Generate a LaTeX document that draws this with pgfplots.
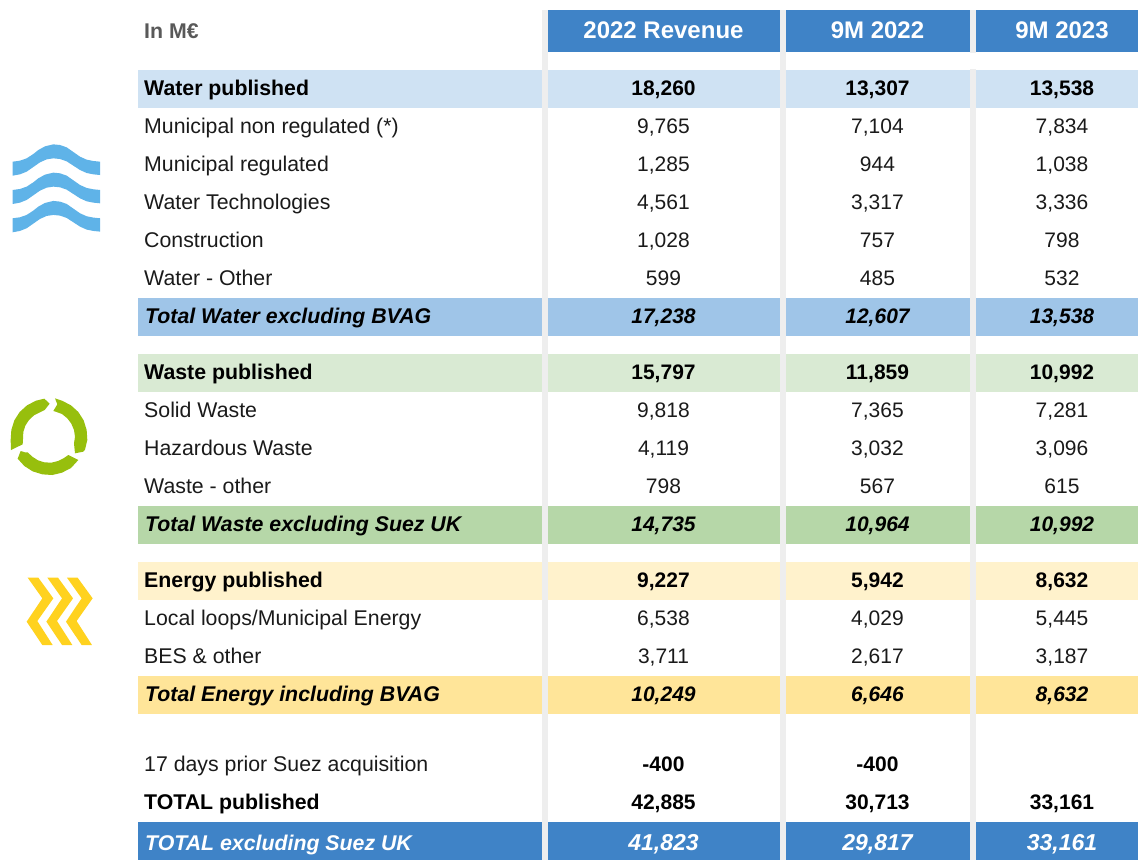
\documentclass[border=0pt]{standalone}
\usepackage{fontspec}
\setmainfont{Liberation Sans}
\usepackage{pgfplots}
\usepackage{pgfplotstable}
\pgfplotsset{compat=1.18}

\definecolor{hdr}{HTML}{3F83C7}
\definecolor{sepgray}{HTML}{EEEEEE}
\definecolor{labgray}{HTML}{595959}
\definecolor{ink}{HTML}{1A1A1A}
\definecolor{waterL}{HTML}{CFE2F3}
\definecolor{waterD}{HTML}{9FC5E8}
\definecolor{wasteL}{HTML}{D9EAD3}
\definecolor{wasteD}{HTML}{B6D7A8}
\definecolor{enerL}{HTML}{FFF2CC}
\definecolor{enerD}{HTML}{FFE599}
\definecolor{wave}{HTML}{5FB3E8}
\definecolor{ringg}{HTML}{97BF0D}
\definecolor{chev}{HTML}{FFD21F}

% label rows: y, label text
\pgfplotstableread{
y label
126 {Municipal non regulated (*)}
164 {Municipal regulated}
202 {Water Technologies}
240 {Construction}
278 {Water - Other}
410 {Solid Waste}
448 {Hazardous Waste}
486 {Waste - other}
618 {Local loops/Municipal Energy}
656 {BES \& other}
764 {17 days prior Suez acquisition}
}\regularlabels
\pgfplotstableread{
y label
88 {Water published}
372 {Waste published}
580 {Energy published}
802 {TOTAL published}
}\boldlabels
\pgfplotstableread{
y label
316 {Total Water excluding BVAG}
524 {Total Waste excluding Suez UK}
694 {Total Energy including BVAG}
}\italiclabels

% value rows, one column per period
\pgfplotstableread{
y rev a b
126 9,765 7,104 7,834
164 1,285 944 1,038
202 4,561 3,317 3,336
240 1,028 757 798
278 599 485 532
410 9,818 7,365 7,281
448 4,119 3,032 3,096
486 798 567 615
618 6,538 4,029 5,445
656 3,711 2,617 3,187
}\regularvals
\pgfplotstableread{
y rev a b
88 18,260 13,307 13,538
372 15,797 11,859 10,992
580 9,227 5,942 8,632
802 42,885 30,713 33,161
}\boldvals
\pgfplotstableread{
y rev a
764 -400 -400
}\priorvals
\pgfplotstableread{
y rev a b
316 17,238 12,607 13,538
524 14,735 10,964 10,992
694 10,249 6,646 8,632
}\italicvals
\pgfplotstableread{
y rev a b label
843 41,823 29,817 33,161 {TOTAL excluding Suez UK}
}\totalvals
\pgfplotstableread{
y rev a b label
31 {2022 Revenue} {9M 2022} {9M 2023} {In M€}
}\headvals

% icon outlines, in pixels of the icon's own crop (3x)
\pgfplotstableread{
x y
38 95
60 92
80 85
100 72
115 60
135 49
160 43
180 45
200 52
220 66
240 80
260 89
280 93
300 95
300 135
280 133
260 129
240 120
220 107
200 94
180 87
160 85
140 88
120 97
100 111
80 125
60 133
38 137
}\waveshape
\pgfplotstableread{
x y
33 195
32 165
34 135
43 106
59 81
81 61
108 47
133 41
149 56
134 75
120 82
102 91
87 105
76 122
70 141
69 162
68 178
}\ringA
\pgfplotstableread{
x y
165 40
186 47
213 61
235 81
251 106
260 135
262 165
255 194
250 200
225 205
222 175
225 155
222 135
214 116
202 100
186 87
167 80
160 78
172 58
}\ringB
\pgfplotstableread{
x y
62 198
53 221
73 243
98 259
127 268
157 270
186 263
213 249
235 225
205 210
192 219
174 228
154 233
133 232
114 226
97 215
83 202
75 202
}\ringC
\pgfplotstableread{
x y
53 38
85 38
130 100
82 168
128 240
97 240
50 170
97 100
}\chevshape

\newcommand{\mainfs}{\fontsize{21.3}{25}\selectfont}
\newcommand{\valfs}{\fontsize{21}{25}\selectfont}
\newcommand{\bigfs}{\fontsize{23}{27}\selectfont}
\newcommand{\headfs}{\fontsize{24}{28}\selectfont}
% bands leave the grey column rules showing
\newcommand{\rowband}[3]{% y0, y1, colour
  \addplot[fill=#3,draw=none] coordinates {(138,#1)(541.5,#1)(541.5,#2)(138,#2)} -- cycle;
  \addplot[fill=#3,draw=none] coordinates {(548,#1)(779.5,#1)(779.5,#2)(548,#2)} -- cycle;
  \addplot[fill=#3,draw=none] coordinates {(785.5,#1)(969.5,#1)(969.5,#2)(785.5,#2)} -- cycle;
  \addplot[fill=#3,draw=none] coordinates {(976,#1)(1138,#1)(1138,#2)(976,#2)} -- cycle;
}
\newcommand{\texts}[5]{% table, column, x, anchor/colour, font
  \addplot[only marks,mark=none,point meta=explicit symbolic,
    nodes near coords,
    nodes near coords style={#4,inner sep=0pt,yshift=-5pt,font=#5,text height=0.72em,text depth=0.2em},
    ] table[x expr=#3,y=y,meta=#2] {#1};
}
\newcommand{\vals}[3]{% table, colour, font
  \texts{#1}{rev}{663.5}{anchor=center,text=#2}{#3}
  \texts{#1}{a}{877.5}{anchor=center,text=#2}{#3}
  \texts{#1}{b}{1062}{anchor=center,text=#2}{#3}
}

\begin{document}
\begin{tikzpicture}
\begin{axis}[
    scale only axis,
    width=1138pt,height=860pt,
    xmin=0,xmax=1138,ymin=0,ymax=860,
    y dir=reverse,
    hide axis,
    clip=false,
  ]
  \path[use as bounding box] (axis cs:0,0) rectangle (axis cs:1138,860);
  % column separators
  \addplot[fill=sepgray,draw=none] coordinates {(542,10)(547.5,10)(547.5,860)(542,860)} -- cycle;
  \addplot[fill=sepgray,draw=none] coordinates {(779.5,10)(785.5,10)(785.5,860)(779.5,860)} -- cycle;
  \addplot[fill=sepgray,draw=none] coordinates {(970,10)(976,10)(976,53)(970,53)} -- cycle;
  \addplot[fill=sepgray,draw=none] coordinates {(970,69)(976,69)(976,860)(970,860)} -- cycle;
  % header cells
  \addplot[fill=hdr,draw=none] coordinates {(548,10)(779.5,10)(779.5,52)(548,52)} -- cycle;
  \addplot[fill=hdr,draw=none] coordinates {(785.5,10)(969.5,10)(969.5,52)(785.5,52)} -- cycle;
  \addplot[fill=hdr,draw=none] coordinates {(976,10)(1138,10)(1138,52)(976,52)} -- cycle;
  % row bands
  \rowband{70}{108}{waterL}
  \rowband{298}{336}{waterD}
  \rowband{354}{392}{wasteL}
  \rowband{506}{544}{wasteD}
  \rowband{562}{600}{enerL}
  \rowband{676}{714}{enerD}
  \rowband{822}{860}{hdr}
  % icons
  \addplot[fill=wave,draw=none] table[x expr=\thisrow{x}/3,y expr=130+\thisrow{y}/3] {\waveshape} -- cycle;
  \addplot[fill=wave,draw=none] table[x expr=\thisrow{x}/3,y expr=158.3+\thisrow{y}/3] {\waveshape} -- cycle;
  \addplot[fill=wave,draw=none] table[x expr=\thisrow{x}/3,y expr=186.6+\thisrow{y}/3] {\waveshape} -- cycle;
  \addplot[fill=ringg,draw=none] table[x expr=\thisrow{x}/3,y expr=385+\thisrow{y}/3] {\ringA} -- cycle;
  \addplot[fill=ringg,draw=none] table[x expr=\thisrow{x}/3,y expr=385+\thisrow{y}/3] {\ringB} -- cycle;
  \addplot[fill=ringg,draw=none] table[x expr=\thisrow{x}/3,y expr=385+\thisrow{y}/3] {\ringC} -- cycle;
  \addplot[fill=chev,draw=none] table[x expr=10+\thisrow{x}/3,y expr=565+\thisrow{y}/3] {\chevshape} -- cycle;
  \addplot[fill=chev,draw=none] table[x expr=29.7+\thisrow{x}/3,y expr=565+\thisrow{y}/3] {\chevshape} -- cycle;
  \addplot[fill=chev,draw=none] table[x expr=49.3+\thisrow{x}/3,y expr=565+\thisrow{y}/3] {\chevshape} -- cycle;
  % row labels
  \texts{\regularlabels}{label}{144}{anchor=west,text=ink}{\mainfs}
  \texts{\boldlabels}{label}{144}{anchor=west,text=black}{\mainfs\bfseries}
  \texts{\italiclabels}{label}{145}{anchor=west,text=black}{\mainfs\bfseries\itshape}
  \texts{\totalvals}{label}{145}{anchor=west,text=white}{\mainfs\bfseries\itshape}
  \texts{\headvals}{label}{144}{anchor=west,text=labgray}{\mainfs\bfseries}
  % values
  \vals{\regularvals}{ink}{\valfs}
  \vals{\boldvals}{black}{\valfs\bfseries}
  \vals{\italicvals}{black}{\valfs\bfseries\itshape}
  \texts{\priorvals}{rev}{663.5}{anchor=center,text=black}{\valfs\bfseries}
  \texts{\priorvals}{a}{877.5}{anchor=center,text=black}{\valfs\bfseries}
  \vals{\totalvals}{white}{\bigfs\bfseries\itshape}
  \vals{\headvals}{white}{\headfs\bfseries}
\end{axis}
\end{tikzpicture}
\end{document}
